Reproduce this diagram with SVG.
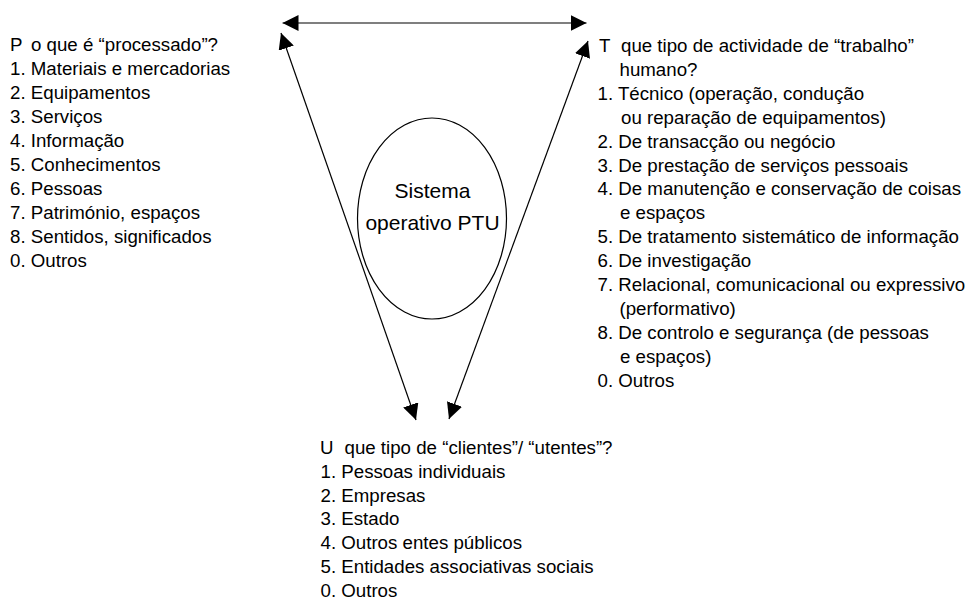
<svg xmlns="http://www.w3.org/2000/svg" width="970" height="600" viewBox="0 0 970 600">
  <style>
    .t { font-family: "Liberation Sans", Arial, sans-serif; font-size: 18.7px; fill: #000; }
    .c { font-family: "Liberation Sans", Arial, sans-serif; font-size: 21px; fill: #000; text-anchor: middle; }
    .ln { stroke: #000; stroke-width: 1.2; fill: none; }
  </style>
  <defs>
    <marker id="ah" viewBox="0 0 16 16" refX="16" refY="8" markerWidth="16" markerHeight="16" markerUnits="userSpaceOnUse" orient="auto-start-reverse">
      <path d="M0,0 L16,8 L0,16 z" fill="#000"/>
    </marker>
  </defs>
  <rect width="970" height="600" fill="#fff"/>

  <g id="connectors">
    <line class="ln" x1="282.5" y1="23" x2="586.5" y2="23" stroke-width="1.5" marker-start="url(#ah)" marker-end="url(#ah)"/>
    <line class="ln" x1="281" y1="33" x2="416" y2="420" marker-start="url(#ah)" marker-end="url(#ah)"/>
    <line class="ln" x1="588" y1="41" x2="449" y2="419" marker-start="url(#ah)" marker-end="url(#ah)"/>
  </g>

  <g id="sistema">
    <ellipse cx="432" cy="218.5" rx="74.5" ry="100.5" fill="none" stroke="#000" stroke-width="1.2"/>
    <text class="c" x="432.5" y="198">Sistema</text>
    <text class="c" x="432.5" y="229.5">operativo PTU</text>
  </g>

  <g id="P">
    <text class="t" y="51"><tspan x="10">P</tspan><tspan x="31">o que é “processado”?</tspan></text>
    <text class="t" x="10" y="75.05">1. Materiais e mercadorias</text>
    <text class="t" x="10" y="99.1">2. Equipamentos</text>
    <text class="t" x="10" y="123.15">3. Serviços</text>
    <text class="t" x="10" y="147.2">4. Informação</text>
    <text class="t" x="10" y="171.25">5. Conhecimentos</text>
    <text class="t" x="10" y="195.3">6. Pessoas</text>
    <text class="t" x="10" y="219.35">7. Património, espaços</text>
    <text class="t" x="10" y="243.4">8. Sentidos, significados</text>
    <text class="t" x="10" y="267.45">0. Outros</text>
  </g>

  <g id="T">
    <text class="t" y="52"><tspan x="599">T</tspan><tspan x="621">que tipo de actividade de “trabalho”</tspan></text>
    <text class="t" x="619.5" y="75.9">humano?</text>
    <text class="t" x="597.5" y="99.8">1. Técnico (operação, condução</text>
    <text class="t" x="621" y="123.7">ou reparação de equipamentos)</text>
    <text class="t" x="597.5" y="147.6">2. De transacção ou negócio</text>
    <text class="t" x="597.5" y="171.5">3. De prestação de serviços pessoais</text>
    <text class="t" x="597.5" y="195.4">4. De manutenção e conservação de coisas</text>
    <text class="t" x="620" y="219.3">e espaços</text>
    <text class="t" x="597.5" y="243.2">5. De tratamento sistemático de informação</text>
    <text class="t" x="597.5" y="267.1">6. De investigação</text>
    <text class="t" x="597.5" y="291">7. Relacional, comunicacional ou expressivo</text>
    <text class="t" x="619.5" y="314.9">(performativo)</text>
    <text class="t" x="597.5" y="338.8">8. De controlo e segurança (de pessoas</text>
    <text class="t" x="620" y="362.7">e espaços)</text>
    <text class="t" x="597.5" y="386.6">0. Outros</text>
  </g>

  <g id="U">
    <text class="t" y="454"><tspan x="320">U</tspan><tspan x="344.5">que tipo de “clientes”/ “utentes”?</tspan></text>
    <text class="t" x="320.5" y="477.8">1. Pessoas individuais</text>
    <text class="t" x="320.5" y="501.6">2. Empresas</text>
    <text class="t" x="320.5" y="525.4">3. Estado</text>
    <text class="t" x="320.5" y="549.2">4. Outros entes públicos</text>
    <text class="t" x="320.5" y="573">5. Entidades associativas sociais</text>
    <text class="t" x="320.5" y="596.8">0. Outros</text>
  </g>
</svg>
